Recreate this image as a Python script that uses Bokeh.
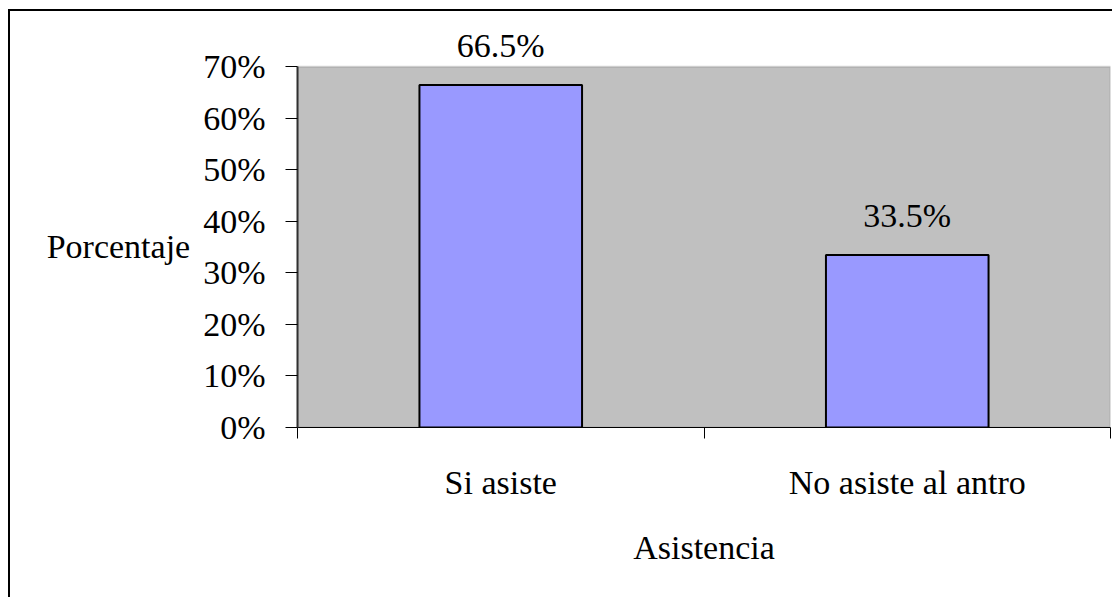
from bokeh.plotting import figure
from bokeh.models import (ColumnDataSource, FixedTicker, LinearAxis, LabelSet,
                          PrintfTickFormatter, Range1d, BoxAnnotation)
from bokeh.core.properties import value
from bokeh.embed import file_html
from bokeh.resources import INLINE

# ---- data ----
categories = ["Si asiste", "No asiste al antro"]
percentages = [66.5, 33.5]
y_ticks = [0, 10, 20, 30, 40, 50, 60, 70]

x_pos = [i + 0.5 for i in range(len(categories))]
labels = [f"{v}%" for v in percentages]
src = ColumnDataSource(dict(x=x_pos, top=percentages, label=labels))

FONT = "Liberation Serif"
FS = "34px"

p = figure(width=1104, height=588, output_backend="svg", toolbar_location=None,
           x_range=Range1d(0, len(categories)), y_range=Range1d(0, 79),
           x_axis_type=None, y_axis_type=None,
           min_border_left=287, min_border_right=4, min_border_top=9,
           min_border_bottom=172)
p.background_fill_color = "white"
p.border_fill_color = "white"
p.outline_line_color = None
p.styles = {"border-left": "2px solid black", "border-top": "2px solid black",
            "margin-left": "8px", "margin-top": "9px"}

# gray plot area from 0% to 70%
p.add_layout(BoxAnnotation(left=0, right=len(categories), bottom=y_ticks[0], top=y_ticks[-1],
                           fill_color="#C0C0C0", fill_alpha=1.0,
                           line_color="#808080", line_width=2, level="image"))

p.vbar(x="x", top="top", width=0.4, bottom=0, source=src,
       fill_color="#9999FF", line_color="black", line_width=2)

# y axis
yax = LinearAxis(ticker=FixedTicker(ticks=y_ticks, minor_ticks=[]),
                 formatter=PrintfTickFormatter(format="%d%%"),
                 bounds=(y_ticks[0], y_ticks[-1]))
yax.axis_label = "\nPorcentaje"
yax.axis_label_orientation = "horizontal"
yax.axis_label_text_font = FONT
yax.axis_label_text_font_size = FS
yax.axis_label_text_font_style = "normal"
yax.axis_label_text_color = "black"
yax.axis_label_standoff = 10
yax.major_label_text_font = FONT
yax.major_label_text_font_size = FS
yax.major_label_text_font_style = "normal"
yax.major_label_text_color = "black"
yax.major_label_standoff = 20
yax.major_tick_out = 12
yax.major_tick_in = 0
yax.major_tick_line_color = "black"
yax.axis_line_color = "#303030"
yax.axis_line_width = 2
p.add_layout(yax, "left")

# x axis: labels at category centres, ticks at category boundaries
xax = LinearAxis(ticker=FixedTicker(ticks=x_pos, minor_ticks=list(range(len(categories) + 1))))
xax.major_label_overrides = {x: c for x, c in zip(x_pos, categories)}
xax.axis_label = "Asistencia"
xax.axis_label_text_font = FONT
xax.axis_label_text_font_size = FS
xax.axis_label_text_font_style = "normal"
xax.axis_label_text_color = "black"
xax.axis_label_standoff = 25
xax.major_label_text_font = FONT
xax.major_label_text_font_size = FS
xax.major_label_text_font_style = "normal"
xax.major_label_text_color = "black"
xax.major_label_standoff = 25
xax.major_tick_line_color = None
xax.major_tick_out = 0
xax.major_tick_in = 0
xax.minor_tick_line_color = "black"
xax.minor_tick_out = 11
xax.minor_tick_in = 0
xax.axis_line_color = "black"
xax.axis_line_width = 1
p.add_layout(xax, "below")

p.xgrid.visible = False
p.ygrid.ticker = FixedTicker(ticks=y_ticks[1:-1])
p.ygrid.grid_line_color = "#505050"
p.ygrid.grid_line_width = 1

p.add_layout(LabelSet(x="x", y="top", text="label", source=src, y_offset=28,
                      text_align="center", text_baseline="alphabetic",
                      text_font=value(FONT), text_font_size=value(FS),
                      text_font_style=value("normal"), text_color="black"))

open("out.html", "w").write(file_html(p, INLINE))
